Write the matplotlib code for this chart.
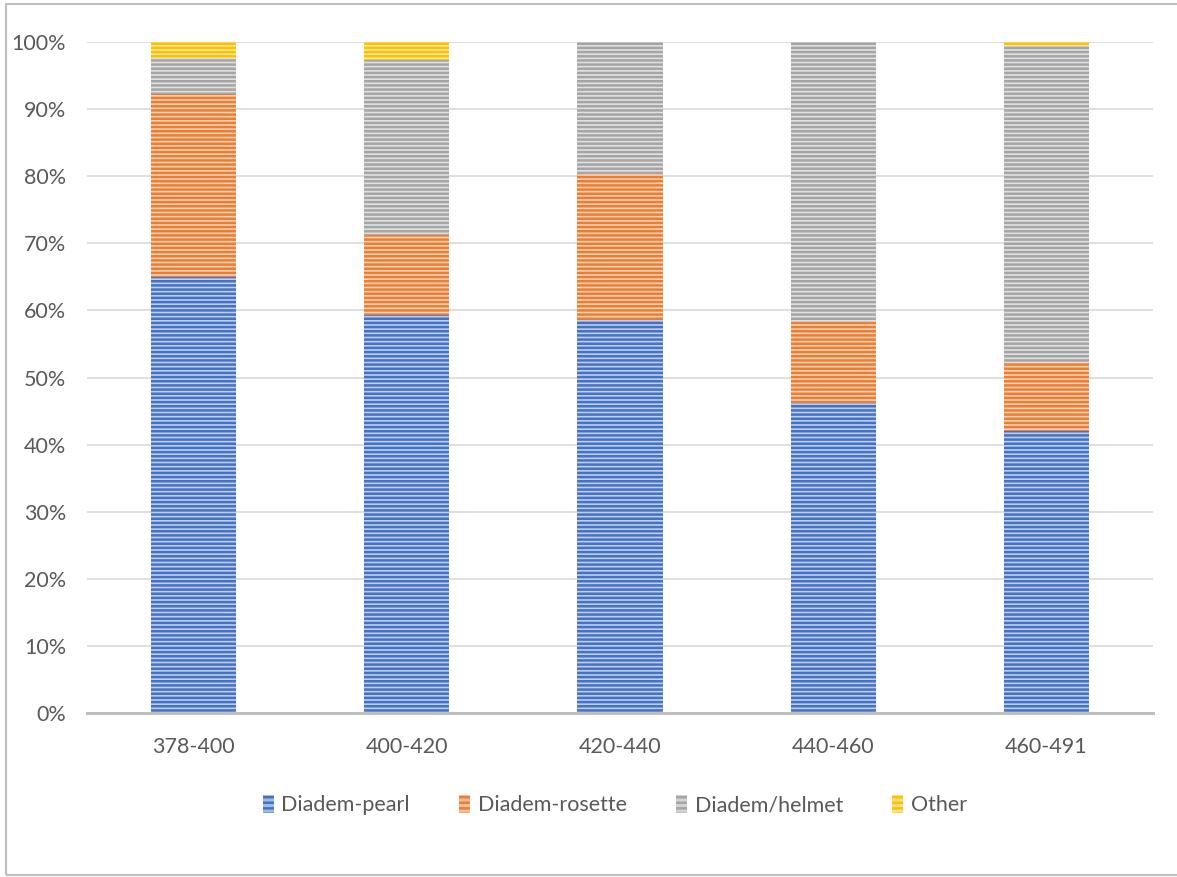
import matplotlib
matplotlib.use("Agg")
import matplotlib.pyplot as plt
import matplotlib.patches as mpatches
import numpy as np

categories = ["378-400", "400-420", "420-440", "440-460", "460-491"]
pearl = [65.0, 59.3, 58.6, 46.2, 42.0]
rosette = [27.2, 12.0, 21.8, 12.0, 10.2]
helmet = [5.4, 26.0, 19.6, 41.8, 47.2]
other = [2.4, 2.7, 0.0, 0.0, 0.6]
series_names = ["Diadem-pearl", "Diadem-rosette", "Diadem/helmet", "Other"]
colors = ["#4472C4", "#ED7D31", "#A5A5A5", "#FFC000"]

plt.rcParams['font.family'] = ['Lato', 'DejaVu Sans']
plt.rcParams['hatch.linewidth'] = 1.8
text_color = "#595959"

def tint(c, f):
    r, g, b = matplotlib.colors.to_rgb(c)
    return (r + (1 - r) * f, g + (1 - g) * f, b + (1 - b) * f)

fig = plt.figure(figsize=(11.77, 8.77), dpi=100)
ax = fig.add_axes([87/1177, 1 - 713/877, (1153 - 87)/1177, (713 - 42)/877])

x = np.arange(len(categories))
bottom = np.zeros(len(categories))
handles = []
for vals, name, col in zip([pearl, rosette, helmet, other], series_names, colors):
    vals = np.array(vals)
    ax.bar(x, vals, 0.4, bottom=bottom, facecolor=tint(col, 0.65), edgecolor=col,
           linewidth=0, hatch='----', zorder=3)
    bottom += vals
    handles.append(mpatches.Patch(facecolor=tint(col, 0.5), edgecolor=col,
                                  linewidth=0, hatch='---', label=name))

ax.set_xlim(-0.5, len(categories) - 0.5)
ax.set_ylim(0, 100)
ax.set_yticks(np.arange(0, 101, 10))
ax.set_yticklabels([f"{v}%" for v in range(0, 101, 10)])
ax.set_xticks(x)
ax.set_xticklabels(categories)
ax.grid(axis='y', color='#d9d9d9', linewidth=1.2, zorder=0)
for s in ['top', 'right', 'left']:
    ax.spines[s].set_visible(False)
ax.spines['bottom'].set_color('#bfbfbf')
ax.spines['bottom'].set_linewidth(2.2)
ax.spines['bottom'].set_zorder(4)
ax.tick_params(axis='both', length=0, labelsize=15.5, colors=text_color)
ax.tick_params(axis='y', pad=15)
ax.tick_params(axis='x', pad=17)

fig.legend(handles=handles, loc='center', bbox_to_anchor=(615/1177, 1 - 805/877),
           ncol=4, frameon=False, fontsize=15.5, labelcolor=text_color,
           handlelength=0.5, handleheight=0.9, handletextpad=0.35, columnspacing=2.3)

border = mpatches.Rectangle((6/1177, 1 - 875/877), (1177 - 6)/1177 + 0.01, (875 - 4)/877,
                            transform=fig.transFigure, fill=False, edgecolor='#bfbfbf',
                            linewidth=1.5, clip_on=False)
fig.patches.append(border)

fig.savefig("out.png", dpi=100, facecolor='white')
